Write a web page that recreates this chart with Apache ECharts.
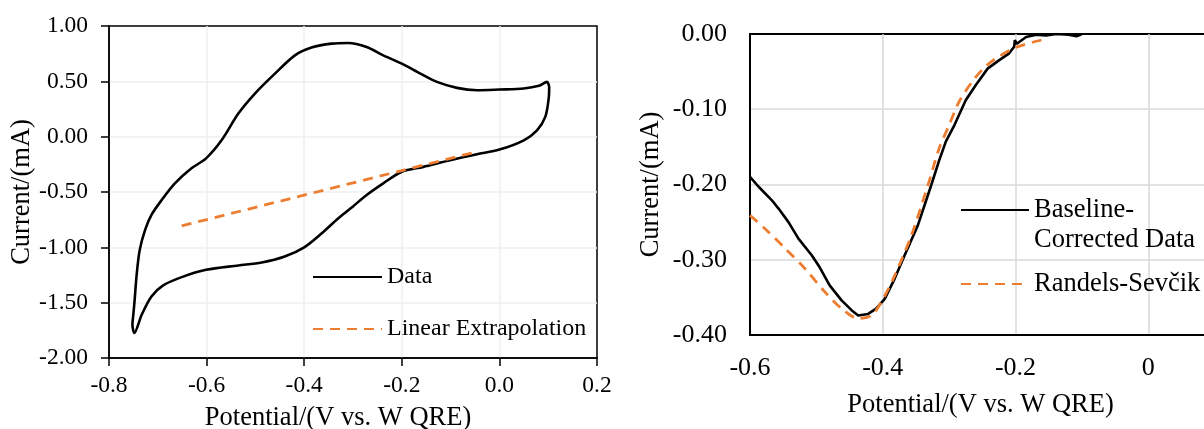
<!DOCTYPE html>
<html>
<head>
<meta charset="utf-8">
<script src="https://cdn.jsdelivr.net/npm/echarts@6/dist/echarts.min.js"></script>
<style>
html,body{margin:0;padding:0;background:#fff;}
#chart{width:1204px;height:429px;}
</style>
</head>
<body>
<div id="chart"></div>
<script>
// ---- Left chart: cyclic voltammogram ----
const cvPotential = [0.100,0.102,0.101,0.094,0.077,0.050,0.000,-0.046,-0.101,-0.156,-0.200,-0.238,-0.272,-0.300,-0.330,-0.364,-0.400,-0.440,-0.487,-0.535,-0.601,-0.651,-0.689,-0.713,-0.733,-0.748,-0.752,-0.750,-0.748,-0.743,-0.737,-0.726,-0.713,-0.692,-0.665,-0.631,-0.601,-0.569,-0.535,-0.501,-0.460,-0.419,-0.385,-0.344,-0.310,-0.272,-0.238,-0.200,-0.162,-0.128,-0.087,-0.046,0.000,0.050,0.081,0.098,0.100];
const cvCurrent   = [0.480,0.450,0.345,0.179,0.057,-0.033,-0.117,-0.159,-0.213,-0.273,-0.317,-0.422,-0.527,-0.630,-0.737,-0.873,-1.000,-1.083,-1.137,-1.164,-1.203,-1.269,-1.344,-1.444,-1.609,-1.774,-1.700,-1.600,-1.504,-1.233,-1.023,-0.843,-0.707,-0.572,-0.422,-0.286,-0.196,-0.031,0.209,0.390,0.570,0.735,0.805,0.841,0.847,0.811,0.735,0.660,0.570,0.495,0.441,0.420,0.426,0.435,0.459,0.495,0.480];
const extrapPotential = [-0.651,-0.046];
const extrapCurrent   = [-0.806,-0.136];

// ---- Right chart: baseline-corrected peak ----
const bcPotential = [-0.600,-0.587,-0.567,-0.557,-0.542,-0.527,-0.507,-0.495,-0.480,-0.462,-0.447,-0.437,-0.422,-0.410,-0.397,-0.382,-0.367,-0.347,-0.327,-0.315,-0.305,-0.292,-0.275,-0.260,-0.242,-0.225,-0.210,-0.202,-0.201,-0.198,-0.184,-0.169,-0.154,-0.139,-0.120,-0.108,-0.100];
const bcCurrent   = [-0.190,-0.203,-0.221,-0.232,-0.250,-0.272,-0.294,-0.310,-0.334,-0.354,-0.367,-0.374,-0.372,-0.365,-0.352,-0.325,-0.294,-0.254,-0.201,-0.168,-0.143,-0.121,-0.088,-0.068,-0.046,-0.035,-0.026,-0.017,-0.008,-0.013,-0.004,-0.001,-0.002,0.000,-0.001,-0.003,0.000];
const rsPotential = [-0.600,-0.577,-0.547,-0.517,-0.487,-0.462,-0.437,-0.417,-0.402,-0.382,-0.357,-0.332,-0.315,-0.300,-0.285,-0.265,-0.245,-0.225,-0.200,-0.174,-0.152];
const rsCurrent   = [-0.241,-0.259,-0.285,-0.312,-0.343,-0.365,-0.378,-0.374,-0.356,-0.321,-0.268,-0.201,-0.152,-0.121,-0.090,-0.063,-0.043,-0.030,-0.018,-0.011,-0.006];

const xTitle = 'Potential/(V vs. W QRE)';
const yTitle = 'Current/(mA)';
const FONT = '"Liberation Serif","Times New Roman",serif';
const ORANGE = '#ED7D31';

const zip = (a, b) => a.map((v, i) => [v, b[i]]);
const fix = (v, d) => { if (Math.abs(v) < 1e-9) v = 0; return v.toFixed(d); };
const hiddenSymbol = {color: 'rgba(0,0,0,0)', borderWidth: 0, opacity: 0};

const chart = echarts.init(document.getElementById('chart'), null, {renderer: 'canvas'});
chart.setOption({
  backgroundColor: '#fff',
  animation: false,
  textStyle: {fontFamily: FONT, color: '#000'},
  grid: [
    {left: 109, top: 26, width: 488, height: 332, show: true, borderColor: '#000', borderWidth: 1.5, outerBoundsMode: 'none', containLabel: false},
    {left: 750, top: 34, width: 531, height: 301, show: true, borderColor: '#000', borderWidth: 2, outerBoundsMode: 'none', containLabel: false}
  ],
  xAxis: [
    {gridIndex: 0, type: 'value', min: -0.8, max: 0.2, interval: 0.2,
     axisLine: {onZero: false, lineStyle: {color: '#000', width: 1.5}},
     axisTick: {show: true, inside: false, length: 8, lineStyle: {color: '#000', width: 1.5}},
     axisLabel: {formatter: v => fix(v, 1), fontSize: 23.5, color: '#000', margin: 16, fontFamily: FONT},
     splitLine: {show: true, showMinLine: false, showMaxLine: false, lineStyle: {color: '#efefef', width: 1.5}},
     name: xTitle, nameLocation: 'middle', nameGap: 47,
     nameTextStyle: {fontSize: 26.5, color: '#000', fontFamily: FONT, padding: [0, 30, 0, 0]}},
    {gridIndex: 1, type: 'value', min: -0.6, max: 0.2, interval: 0.2,
     axisLine: {onZero: false, lineStyle: {color: '#000', width: 2}},
     axisTick: {show: false},
     axisLabel: {formatter: v => Math.abs(v) < 1e-9 ? '0' : fix(v, 1), fontSize: 26, color: '#000', margin: 20, fontFamily: FONT},
     splitLine: {show: true, showMinLine: false, showMaxLine: false, lineStyle: {color: '#d9d9d9', width: 1.5}},
     name: xTitle, nameLocation: 'middle', nameGap: 57,
     nameTextStyle: {fontSize: 26.5, color: '#000', fontFamily: FONT, padding: [0, 70, 0, 0]}}
  ],
  yAxis: [
    {gridIndex: 0, type: 'value', min: -2, max: 1, interval: 0.5,
     axisLine: {show: true, onZero: false, lineStyle: {color: '#000', width: 1.5}},
     axisTick: {show: true, inside: false, length: 8, lineStyle: {color: '#000', width: 1.5}},
     axisLabel: {formatter: v => fix(v, 2), fontSize: 23.5, color: '#000', margin: 21, fontFamily: FONT},
     splitLine: {show: true, showMinLine: false, showMaxLine: false, lineStyle: {color: '#efefef', width: 1.5}},
     name: yTitle, nameLocation: 'middle', nameGap: 71,
     nameTextStyle: {fontSize: 26.5, color: '#000', fontFamily: FONT}},
    {gridIndex: 1, type: 'value', min: -0.4, max: 0, interval: 0.1,
     axisLine: {show: true, onZero: false, lineStyle: {color: '#000', width: 2}},
     axisTick: {show: false},
     axisLabel: {formatter: v => fix(v, 2), fontSize: 26, color: '#000', margin: 23, fontFamily: FONT},
     splitLine: {show: true, showMinLine: false, showMaxLine: false, lineStyle: {color: '#d9d9d9', width: 1.5}},
     name: yTitle, nameLocation: 'middle', nameGap: 85,
     nameTextStyle: {fontSize: 26.5, color: '#000', fontFamily: FONT}}
  ],
  legend: [
    {left: 312, top: 263, orient: 'vertical', padding: 0, itemWidth: 69, itemHeight: 28, itemGap: 24,
     itemStyle: hiddenSymbol,
     data: ['Data', 'Linear Extrapolation'],
     textStyle: {fontSize: 24, lineHeight: 28, color: '#000', fontFamily: FONT}},
    {left: 960, top: 165, orient: 'vertical', padding: 0, itemWidth: 68, itemHeight: 30,
     itemStyle: hiddenSymbol,
     data: ['Baseline-Corrected Data'],
     formatter: () => '{e| }\n{t|Baseline-}\n{t|Corrected Data}',
     textStyle: {fontSize: 26.5, lineHeight: 30, color: '#000', fontFamily: FONT,
       rich: {e: {fontSize: 26.5, lineHeight: 30, fontFamily: FONT}, t: {fontSize: 26.5, lineHeight: 30, color: '#000', fontFamily: FONT}}}},
    {left: 960, top: 269, orient: 'vertical', padding: 0, itemWidth: 68, itemHeight: 30,
     itemStyle: hiddenSymbol,
     data: ['Randels-Sevčik'],
     textStyle: {fontSize: 26.5, lineHeight: 30, color: '#000', fontFamily: FONT}}
  ],
  series: [
    {name: 'Data', type: 'line', xAxisIndex: 0, yAxisIndex: 0, data: zip(cvPotential, cvCurrent),
     symbol: 'none', smooth: 0.3, lineStyle: {color: '#000', width: 2.6}, itemStyle: {color: '#000'}},
    {name: 'Linear Extrapolation', type: 'line', xAxisIndex: 0, yAxisIndex: 0, data: zip(extrapPotential, extrapCurrent),
     symbol: 'none', lineStyle: {color: ORANGE, width: 2.8, type: [10, 7]}, itemStyle: {color: ORANGE}},
    {name: 'Baseline-Corrected Data', type: 'line', xAxisIndex: 1, yAxisIndex: 1, data: zip(bcPotential, bcCurrent),
     symbol: 'none', lineStyle: {color: '#000', width: 2.6}, itemStyle: {color: '#000'}},
    {name: 'Randels-Sevčik', type: 'line', xAxisIndex: 1, yAxisIndex: 1, data: zip(rsPotential, rsCurrent),
     symbol: 'none', smooth: 0.3, lineStyle: {color: ORANGE, width: 2.8, type: [10, 7]}, itemStyle: {color: ORANGE}}
  ]
});
</script>
</body>
</html>
